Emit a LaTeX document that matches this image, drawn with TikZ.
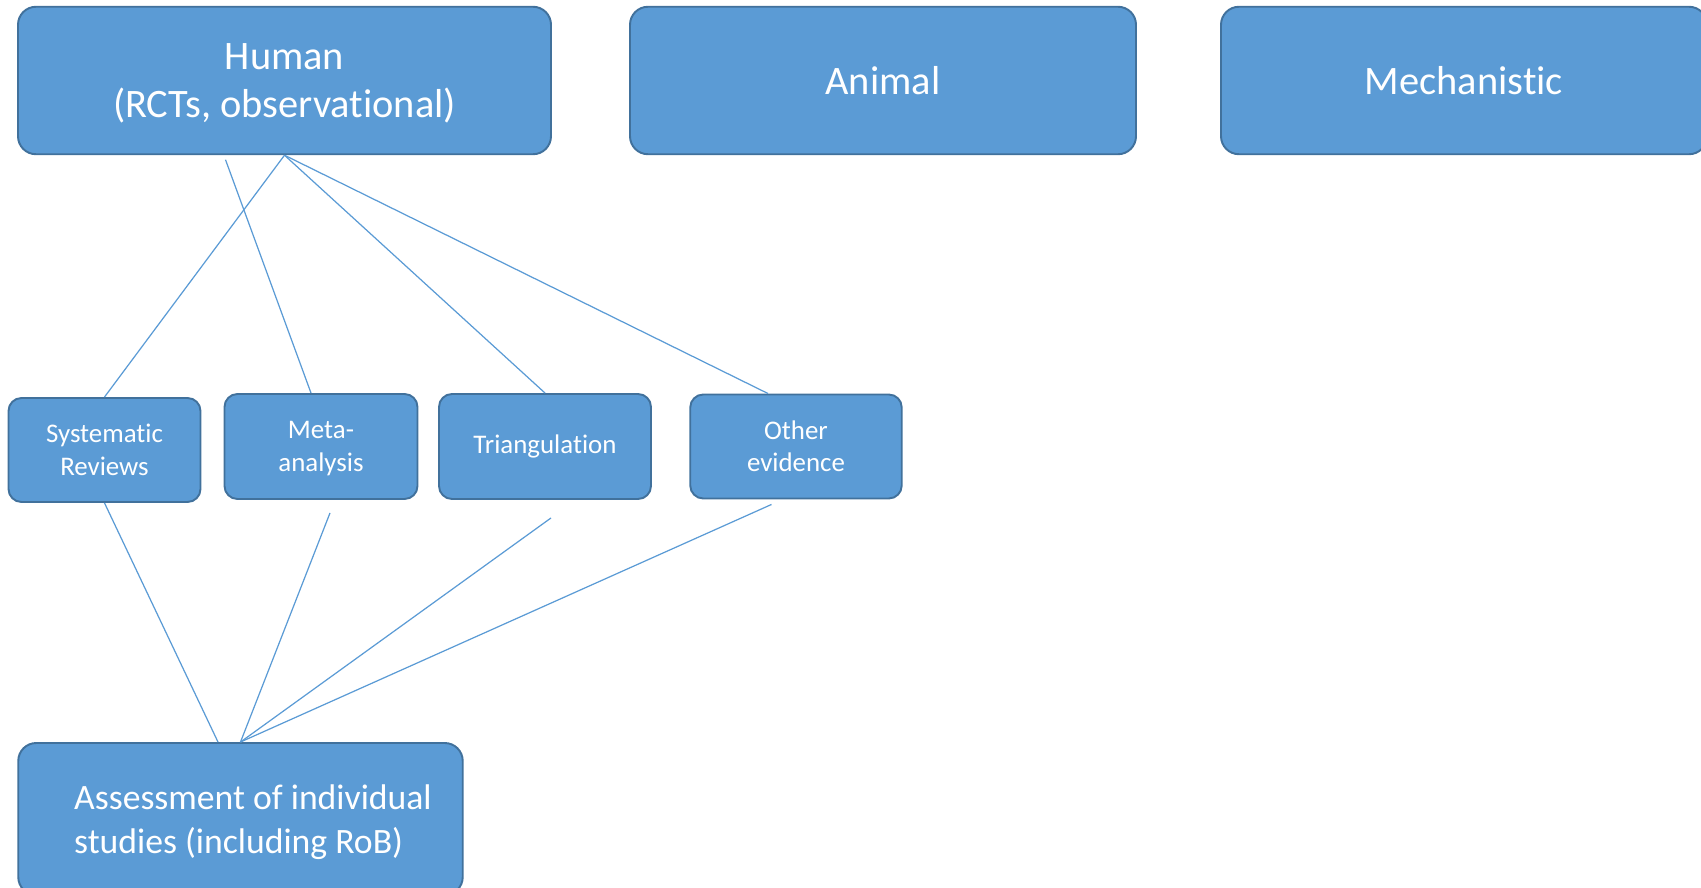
\documentclass[tikz,border=0pt]{standalone}
\usepackage{fontspec}
\setmainfont{Carlito}[Ligatures=CommonOff]
\usetikzlibrary{positioning}
\definecolor{boxfill}{HTML}{5B9BD5}
\definecolor{boxline}{HTML}{41719C}
\begin{document}
\begin{tikzpicture}[on grid,
	box/.style={draw=boxline, line width=1.1pt, fill=boxfill, text=white, rounded corners=0.36cm, align=center, inner sep=0pt},
	big/.style={box, minimum height=2.95cm, font=\fontsize{23}{27.7}\selectfont},
	small/.style={box, rounded corners=0.26cm, font=\fontsize{15.3}{18.4}\selectfont},
	link/.style={draw=boxfill, line width=0.7pt}]
			\useasboundingbox (0,0) rectangle (34.02,-17.76);
			\node[big, minimum width=10.66cm, text depth=0pt] (human) at (5.69,-1.61)	{Human\\(RCTs, observational)};
			\node[big, minimum width=10.12cm] (animal) [right=11.97cm of human]	{Animal};
			\node[big, minimum width=9.72cm] (mech) [right=11.62cm of animal]	{Mechanistic};
			\node[small, minimum width=3.84cm, minimum height=2.08cm] (sr) [below left=7.39cm and 3.6cm of human]	{Systematic\\Reviews};
			\node[small, minimum width=3.86cm, minimum height=2.1cm, text depth=0pt] (meta) [above right=0.07cm and 4.33cm of sr]	{Meta-\\analysis};
			\node[small, minimum width=4.24cm, minimum height=2.1cm] (tri) [right=4.48cm of meta]	{Triangulation};
			\node[small, minimum width=4.23cm, minimum height=2.08cm] (other) [right=5.02cm of tri]	{Other\\evidence};
			\node[box, minimum width=8.89cm, minimum height=3.04cm, text depth=0pt, align=left, font=\fontsize{20.3}{24.6}\selectfont] (assess) [below right=7.38cm and 2.72cm of sr]
				{\hspace*{0.5cm}Assessment of individual\\\hspace*{0.5cm}studies (including RoB)};
			\path[link]	(human.south) edge (sr.north)
							edge (tri.north)
							edge ([xshift=-0.56cm]other.north)
						([xshift=-1.18cm,yshift=-0.09cm]human.south) edge ([xshift=-0.2cm]meta.north)
						(sr.south) edge ([xshift=-0.45cm]assess.north)
						(assess.north) edge ([xshift=0.18cm,yshift=-0.26cm]meta.south)
							edge ([xshift=0.12cm,yshift=-0.36cm]tri.south)
							edge ([xshift=-0.49cm,yshift=-0.1cm]other.south);
	\end{tikzpicture}
\end{document}
